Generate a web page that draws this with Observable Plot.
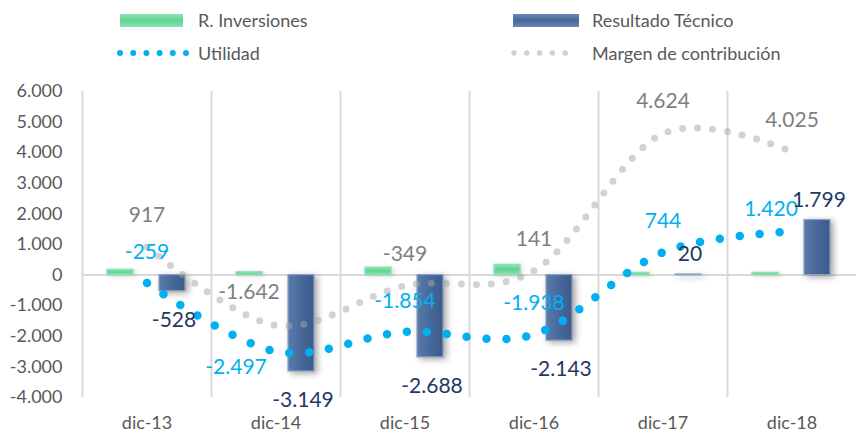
<!DOCTYPE html>
<html><head><meta charset="utf-8">
<script src="https://cdn.jsdelivr.net/npm/d3@7"></script>
<script src="https://cdn.jsdelivr.net/npm/@observablehq/plot@0.6"></script>
<style>
body{margin:0;background:#fff;font-family:Lato,sans-serif;}
#legend{position:relative;width:856px;height:75px;}
.lg{position:absolute;font-size:18px;line-height:20px;color:#595959;white-space:nowrap;}
.sw{position:absolute;height:13px;}
</style></head><body>
<div id="legend"></div>
<div id="chart"></div>
<script>
// ---- data ----
const categories = ["dic-13", "dic-14", "dic-15", "dic-16", "dic-17", "dic-18"];
const rInversiones = [170, 90, 240, 330, 70, 70];
const resultadoTecnico = [-528, -3149, -2688, -2143, 20, 1799];
const utilidad = [-259, -2497, -1854, -1938, 744, 1420];
const margen = [917, -1642, -349, 141, 4624, 4025];
const yTicks = [-4000, -3000, -2000, -1000, 0, 1000, 2000, 3000, 4000, 5000, 6000];
const seriesNames = ["R. Inversiones", "Resultado Técnico", "Utilidad", "Margen de contribución"];

// ---- legend ----
const legend = document.getElementById("legend");
legend.innerHTML = `
  <div class="sw" style="left:120px;top:14px;width:63px;background:linear-gradient(#8be3b0,#62d594 50%,#8be3b0)"></div>
  <div class="lg" style="left:198px;top:10px">${seriesNames[0]}</div>
  <div class="sw" style="left:513px;top:14px;width:66px;background:linear-gradient(#6a88b3,#46679a 50%,#6a88b3)"></div>
  <div class="lg" style="left:592px;top:10px">${seriesNames[1]}</div>
  <svg style="position:absolute;left:116px;top:46px" width="74" height="14"><line x1="4" y1="7" x2="70" y2="7" stroke="#00b0f0" stroke-width="6" stroke-linecap="round" stroke-dasharray="0 13.2"/></svg>
  <div class="lg" style="left:198px;top:43px">${seriesNames[2]}</div>
  <svg style="position:absolute;left:510px;top:46px" width="74" height="14"><line x1="4" y1="7" x2="68" y2="7" stroke="#d0d0d0" stroke-width="5.5" stroke-linecap="round" stroke-dasharray="0 12.8"/></svg>
  <div class="lg" style="left:592px;top:43px">${seriesNames[3]}</div>`;

// ---- chart ----
const W = 856, H = 362, ML = 82, MR = 0, MT = 16, MB = 40;
const bw = (W - ML - MR) / categories.length;
const fmt = d3.formatLocale({decimal: ",", thousands: ".", grouping: [3], currency: ["", ""], minus: "-"}).format(",d");
const rows = categories.map((c, i) => ({cat: c, i, inv: rInversiones[i], res: resultadoTecnico[i], uti: utilidad[i], mar: margen[i]}));

const labelFont = 21;
const plot = Plot.plot({
  width: W, height: H,
  marginLeft: ML, marginRight: MR, marginTop: MT, marginBottom: MB,
  style: {fontFamily: "Lato, sans-serif", fontSize: "18px", color: "#595959", background: "white", overflow: "visible"},
  x: {domain: categories, padding: 0, tickSize: 0, tickPadding: 19, label: null},
  y: {domain: [-4000, 6000], ticks: yTicks, tickFormat: fmt, tickSize: 0, tickPadding: 20, label: null},
  marks: [
    Plot.ruleX(categories, {x: d => d, dx: -bw / 2, stroke: "#d9d9d9", strokeWidth: 2}),
    Plot.ruleY([0], {stroke: "#d9d9d9", strokeWidth: 2}),
    Plot.barY(rows, {x: "cat", y: "inv", fill: "#66d698", stroke: "#8fe2b3", strokeWidth: 1.5, insetLeft: 25, insetRight: bw - 51}),
    Plot.barY(rows, {x: "cat", y: "res", fill: "#46679a", stroke: "#8aa0c2", strokeWidth: 1.2, insetLeft: 77, insetRight: bw - 103}),
    Plot.line(rows, {x: "cat", y: "mar", stroke: "#a6a6a6", strokeOpacity: 0.5, strokeWidth: 7, strokeDasharray: "0 15", strokeLinecap: "round", curve: "cardinal"}),
    Plot.line(rows, {x: "cat", y: "uti", stroke: "#00b0f0", strokeWidth: 8.5, strokeDasharray: "0 20", strokeLinecap: "round", curve: "cardinal"}),
    // Margen labels
    Plot.text(rows.filter(d => d.i !== 1), {x: "cat", y: "mar", text: d => fmt(d.mar), dy: -32, fill: "#7f7f7f", fontSize: labelFont}),
    Plot.text(rows.filter(d => d.i === 1), {x: "cat", y: "mar", text: d => fmt(d.mar), dx: -27, dy: -33, fill: "#7f7f7f", fontSize: labelFont}),
    // Utilidad labels
    Plot.text(rows.filter(d => d.i !== 1 && d.i !== 5), {x: "cat", y: "uti", text: d => fmt(d.uti), dy: -31, fill: "#00b0f0", fontSize: labelFont}),
    Plot.text(rows.filter(d => d.i === 1), {x: "cat", y: "uti", text: d => fmt(d.uti), dx: -40, dy: 16, fill: "#00b0f0", fontSize: labelFont}),
    Plot.text(rows.filter(d => d.i === 5), {x: "cat", y: "uti", text: d => fmt(d.uti), dx: -21, dy: -22, fill: "#00b0f0", fontSize: labelFont}),
    // Resultado Técnico labels
    Plot.text(rows.filter(d => d.res < 0), {x: "cat", y: "res", text: d => fmt(d.res), dx: 27, dy: 29, fill: "#1f3864", fontSize: labelFont}),
    Plot.text(rows.filter(d => d.res >= 0), {x: "cat", y: "res", text: d => fmt(d.res), dx: 27, dy: -20, fill: "#1f3864", fontSize: labelFont})
  ]
});
document.getElementById("chart").appendChild(plot);

// bar styling: gradient + soft shadow
const ns = "http://www.w3.org/2000/svg";
const defs = document.createElementNS(ns, "defs");
defs.innerHTML = `
  <linearGradient id="gBlue" x1="0" x2="1" y1="0" y2="0">
    <stop offset="0" stop-color="#5a7bab"/><stop offset="0.5" stop-color="#47689a"/><stop offset="1" stop-color="#3b5b8b"/>
  </linearGradient>
  <linearGradient id="gGreen" x1="0" x2="0" y1="0" y2="1">
    <stop offset="0" stop-color="#8be3b0"/><stop offset="0.5" stop-color="#5fd492"/><stop offset="1" stop-color="#8be3b0"/>
  </linearGradient>`;
plot.insertBefore(defs, plot.firstChild);
const bars = plot.querySelectorAll('g[aria-label="bar"]');
if (bars.length === 2) {
  bars[0].setAttribute("fill", "url(#gGreen)");
  bars[0].style.filter = "drop-shadow(2px 1px 2px rgba(0,0,0,0.15))";
  bars[1].setAttribute("fill", "url(#gBlue)");
  bars[1].style.filter = "drop-shadow(3px 2px 3px rgba(0,0,0,0.35))";
}
</script>
</body></html>
